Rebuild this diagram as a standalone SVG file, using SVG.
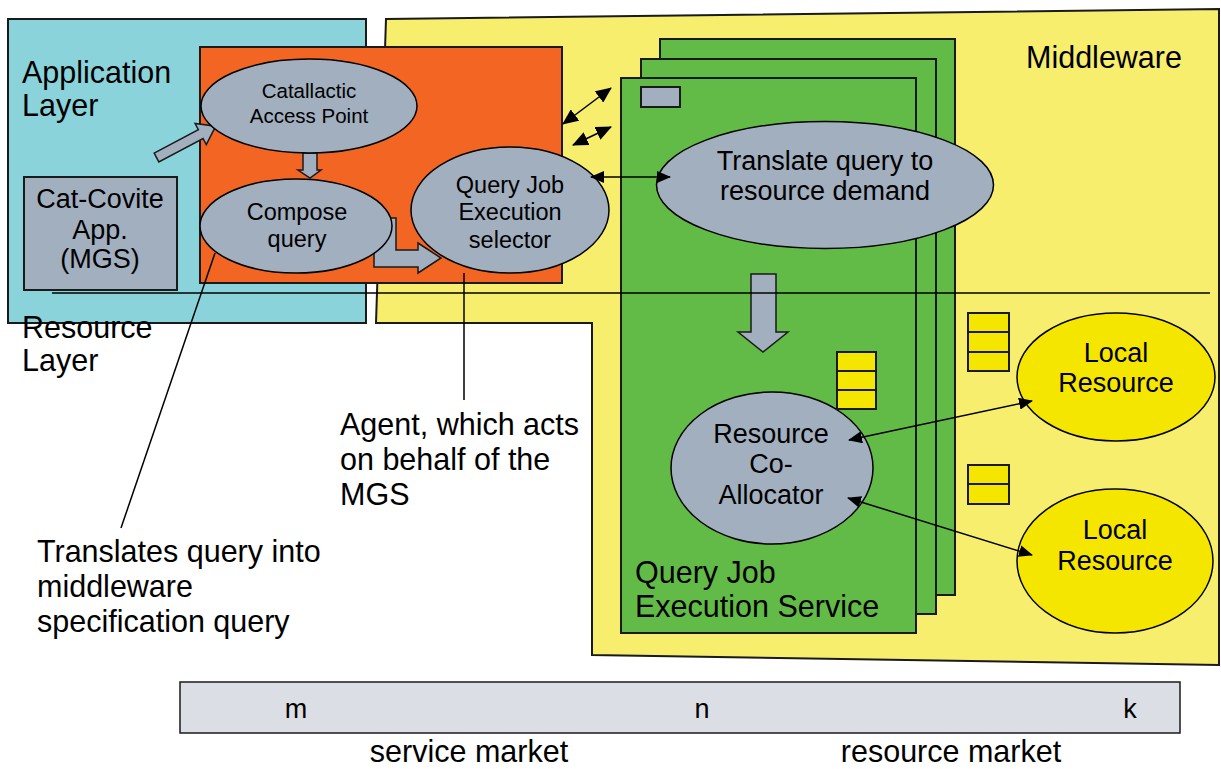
<svg xmlns="http://www.w3.org/2000/svg" width="1221" height="769" viewBox="0 0 1221 769">
<defs>
<marker id="ah" viewBox="0 0 14 12" refX="13" refY="6" markerWidth="14" markerHeight="12" markerUnits="userSpaceOnUse" orient="auto-start-reverse">
<path d="M0,0 L14,6 L0,12 z" fill="#000"/>
</marker>
<marker id="ahs" viewBox="0 0 16 14" refX="15" refY="7" markerWidth="16" markerHeight="14" markerUnits="userSpaceOnUse" orient="auto-start-reverse">
<path d="M0,0 L16,7 L0,14 z" fill="#000"/>
</marker>
</defs>
<style>
text{font-family:"Liberation Sans",Arial,sans-serif;fill:#000}
.big{font-size:30.5px}
.mid{font-size:27px}
.sm{font-size:23.5px}
.xs{font-size:20.5px}
.ell{fill:#a2afbf;stroke:#000;stroke-width:1.5}
.loc{fill:#f5e600;stroke:#000;stroke-width:1.5}
.grn{fill:#62bb46;stroke:#1a1a1a;stroke-width:2}
.box{fill:#f5e600;stroke:#1a1a1a;stroke-width:2}
.blk{fill:#a2afbf;stroke:#1a1a1a;stroke-width:1.5}
.ln{stroke:#000;stroke-width:1.5;fill:none}
.c{text-anchor:middle}
</style>
<rect width="1221" height="769" fill="#fff"/>
<g id="application-layer">
<rect x="8" y="19" width="358" height="304" fill="#8ad3da" stroke="#1a1a1a" stroke-width="2"/>
</g>
<g id="middleware">
<polygon points="386,19 1219,9 1219,665 592,655 592,323 376,323" fill="#f7ee6d" stroke="#1a1a1a" stroke-width="2"/>
</g>
<g id="agent">
<rect x="200" y="47" width="362" height="236" fill="#f26522" stroke="#1a1a1a" stroke-width="2"/>
</g>
<g id="qjes-stack">
<rect class="grn" x="660" y="39" width="295" height="556"/>
<rect class="grn" x="641" y="59" width="295" height="555"/>
<rect class="grn" x="621" y="78" width="295" height="555"/>
<rect x="641" y="87" width="39" height="20" fill="#a2afbf" stroke="#1a1a1a" stroke-width="2"/>
</g>
<g id="block-arrows">
<polygon class="blk" transform="translate(156.5,157.5) rotate(-27.9)" points="0,-5 50,-5 50,-12 67,0 50,12 50,5 0,5"/>
<polygon class="blk" points="303,153 317,153 317,170 321,170 310,178 298,170 303,170"/>
<polygon class="blk" points="360,218 396,218 396,250 418,250 418,243 441,258 418,273 418,267 374,267 374,245 360,245"/>
<polygon class="blk" points="751,274 776,274 776,332 788,332 763,352 738,332 751,332"/>
</g>
<g id="cat-covite">
<rect x="24" y="177" width="153" height="113" fill="#a2afbf" stroke="#1a1a1a" stroke-width="2"/>
<text class="mid c" x="100" y="208">Cat-Covite</text>
<text class="mid c" x="100" y="239">App.</text>
<text class="mid c" x="100" y="268">(MGS)</text>
</g>
<g id="catallactic-access-point">
<ellipse class="ell" cx="309" cy="106" rx="108" ry="47"/>
<text class="xs c" x="309" y="98">Catallactic</text>
<text class="xs c" x="309" y="123">Access Point</text>
</g>
<g id="compose-query">
<ellipse class="ell" cx="296" cy="226" rx="96" ry="47"/>
<text class="sm c" x="297" y="220">Compose</text>
<text class="sm c" x="297" y="247">query</text>
</g>
<g id="query-job-execution-selector">
<ellipse class="ell" cx="510" cy="210" rx="99" ry="63"/>
<text class="sm c" x="510" y="193">Query Job</text>
<text class="sm c" x="510" y="220">Execution</text>
<text class="sm c" x="510" y="248">selector</text>
</g>
<g id="translate-query">
<ellipse class="ell" cx="825" cy="185" rx="168.5" ry="63.5"/>
<text class="mid c" x="825" y="170">Translate query to</text>
<text class="mid c" x="825" y="200">resource demand</text>
</g>
<g id="resource-co-allocator">
<ellipse class="ell" cx="772" cy="468" rx="101" ry="76"/>
<text class="mid c" x="771" y="443">Resource</text>
<text class="mid c" x="771" y="473">Co-</text>
<text class="mid c" x="771" y="504">Allocator</text>
</g>
<g id="local-resource-1">
<ellipse class="loc" cx="1116" cy="377" rx="99" ry="64"/>
<text class="mid c" x="1116" y="362">Local</text>
<text class="mid c" x="1116" y="392">Resource</text>
</g>
<g id="local-resource-2">
<ellipse class="loc" cx="1115" cy="561" rx="98" ry="72"/>
<text class="mid c" x="1115" y="539">Local</text>
<text class="mid c" x="1115" y="570">Resource</text>
</g>
<g id="queues">
<rect class="box" x="837" y="352" width="39" height="19"/>
<rect class="box" x="837" y="371" width="39" height="19"/>
<rect class="box" x="837" y="390" width="39" height="19"/>
<rect class="box" x="968" y="313" width="41" height="19"/>
<rect class="box" x="968" y="332" width="41" height="20"/>
<rect class="box" x="968" y="352" width="41" height="19"/>
<rect class="box" x="968" y="465" width="41" height="19"/>
<rect class="box" x="968" y="484" width="41" height="20"/>
</g>
<g id="separator">
<line class="ln" x1="52" y1="293" x2="1210" y2="293"/>
</g>
<g id="connectors">
<line class="ln" x1="591" y1="177" x2="670" y2="177" marker-start="url(#ah)" marker-end="url(#ah)"/>
<line class="ln" x1="563" y1="124" x2="611" y2="88" marker-start="url(#ahs)" marker-end="url(#ahs)"/>
<line class="ln" x1="573" y1="145" x2="611" y2="127" marker-start="url(#ahs)" marker-end="url(#ahs)"/>
<line class="ln" x1="849" y1="440" x2="1032" y2="401" marker-start="url(#ah)" marker-end="url(#ah)"/>
<line class="ln" x1="848" y1="498" x2="1032" y2="555" marker-start="url(#ah)" marker-end="url(#ah)"/>
<line class="ln" x1="215" y1="253" x2="121" y2="528"/>
<line class="ln" x1="464" y1="273" x2="464" y2="400"/>
</g>
<g id="labels">
<text class="big" x="22" y="83">Application</text>
<text class="big" x="22" y="116">Layer</text>
<text class="big" x="22" y="338">Resource</text>
<text class="big" x="22" y="371">Layer</text>
<text class="big" x="1026" y="68">Middleware</text>
<text class="big" x="340" y="435">Agent, which acts</text>
<text class="big" x="340" y="470">on behalf of the</text>
<text class="big" x="340" y="505">MGS</text>
<text class="big" x="37" y="562">Translates query into</text>
<text class="big" x="37" y="597">middleware</text>
<text class="big" x="37" y="632">specification query</text>
<text class="big" x="635" y="583">Query Job</text>
<text class="big" x="635" y="617">Execution Service</text>
</g>
<g id="market-bar">
<rect x="180" y="682" width="1000" height="51" fill="#dcdee6" stroke="#1a1a1a" stroke-width="1.5"/>
<text class="mid c" x="296" y="718">m</text>
<text class="mid c" x="702" y="718">n</text>
<text class="mid c" x="1130" y="718">k</text>
<text class="big c" x="469" y="762">service market</text>
<text class="big c" x="951" y="762">resource market</text>
</g>
</svg>
